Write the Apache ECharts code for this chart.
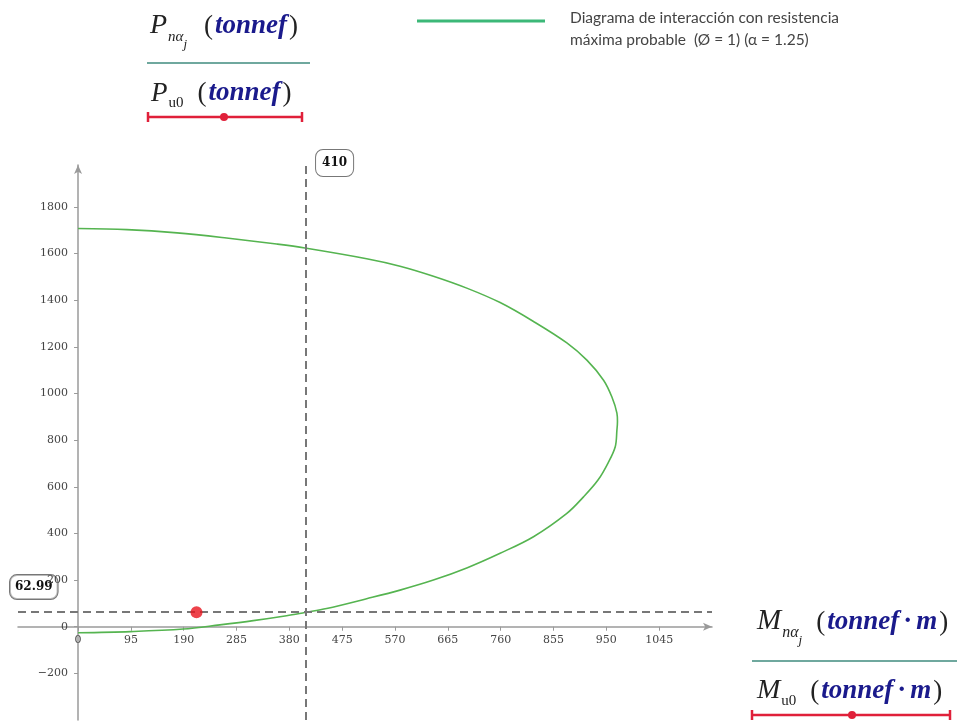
<!DOCTYPE html>
<html>
<head>
<meta charset="utf-8">
<script src="https://cdn.jsdelivr.net/npm/echarts@6/dist/echarts.min.js"></script>
<style>
html,body{margin:0;padding:0;background:#fff;}
#main{width:957px;height:724px;}
</style>
</head>
<body>
<div id="main"></div>
<script>
// ---- data ----
const curveM = [0, 88, 178, 267, 357, 408, 519, 579, 639, 699, 759, 819, 879, 915, 945, 960, 969, 970, 969, 966, 953, 935, 909, 879, 819, 759, 699, 639, 579, 519, 447, 408, 375, 315, 255, 189, 94, 0];
const curveP = [1708, 1703, 1689, 1667, 1641, 1624, 1578, 1546, 1503, 1452, 1390, 1309, 1217, 1143, 1057, 985, 916, 880, 843, 772, 702, 629, 557, 486, 386, 315, 252, 200, 157, 120, 78, 61, 47, 26, 8, -10, -21, -26];
const demandM = [213];
const demandP = [62];
const refM = 410;
const refP = 62.99;
const xTicks = [0, 95, 190, 285, 380, 475, 570, 665, 760, 855, 950, 1045];
const yTicks = [-200, 0, 200, 400, 600, 800, 1000, 1200, 1400, 1600, 1800];
const legendText = ['Diagrama de interacción con resistencia', 'máxima probable  (Ø = 1) (α = 1.25)'];

const chart = echarts.init(document.getElementById('main'));
const serif = 'DejaVu Serif';
const axisColor = '#9a9a9a';
const X_MIN = -108, X_MAX = 1140, Y_MIN = -400, Y_MAX = 1980;
const G = { left: 18, top: 165, width: 694, height: 555 };
// offsets so the axes pass through zero
const yAxisOffset = -G.width * (0 - X_MIN) / (X_MAX - X_MIN);
const xAxisOffset = -G.height * (0 - Y_MIN) / (Y_MAX - Y_MIN);

const curveData = curveM.map((m, i) => [m, curveP[i]]);
const demandData = demandM.map((m, i) => [m, demandP[i]]);

chart.setOption({
  animation: false,
  grid: { left: G.left, top: G.top, width: G.width, height: G.height, containLabel: false, outerBoundsMode: 'none' },
  xAxis: {
    type: 'value', min: X_MIN, max: X_MAX, position: 'bottom', offset: xAxisOffset,
    axisLine: { onZero: false, lineStyle: { color: axisColor, width: 1.5 }, symbol: ['none', 'arrow'], symbolSize: [6, 9] },
    axisTick: { show: true, customValues: xTicks, length: 4, lineStyle: { color: axisColor } },
    axisLabel: { customValues: xTicks, fontFamily: serif, fontSize: 11, color: '#444', margin: 8, formatter: v => String(v) },
    splitLine: { show: false }
  },
  yAxis: {
    type: 'value', min: Y_MIN, max: Y_MAX, position: 'left', offset: yAxisOffset,
    axisLine: { onZero: false, lineStyle: { color: axisColor, width: 1.5 }, symbol: ['none', 'arrow'], symbolSize: [6, 9] },
    axisTick: { show: true, customValues: yTicks, length: 4, lineStyle: { color: axisColor } },
    axisLabel: { customValues: yTicks, fontFamily: serif, fontSize: 11, color: '#444', margin: 10,
      formatter: v => v < 0 ? '\u2212' + Math.abs(v) : String(v) },
    splitLine: { show: false }
  },
  series: [
    {
      type: 'line', data: curveData, showSymbol: false, smooth: 0.35,
      lineStyle: { color: '#55b450', width: 1.6 }, z: 3,
      markLine: {
        silent: true, symbol: ['none', 'none'],
        lineStyle: { color: '#777', width: 2, type: [8, 5] },
        label: { show: false },
        data: [{ xAxis: refM }, { yAxis: refP }]
      }
    },
    {
      type: 'scatter', data: demandData, symbolSize: 12,
      itemStyle: { color: '#e8141e' }, z: 5
    }
  ]
});

// ---- annotation graphics ----
const ctx = document.createElement('canvas').getContext('2d');
function fontStr(p) { return (p.italic ? 'italic ' : '') + (p.bold ? 'bold ' : '') + p.size + 'px ' + (p.family || 'Liberation Serif'); }
function mathRow(x, y, pieces) {
  const els = [];
  let cx = x;
  pieces.forEach(p => {
    if (p.gap) { cx += p.gap; return; }
    ctx.font = fontStr(p);
    const w = ctx.measureText(p.t).width;
    els.push({
      type: 'text', x: cx, y: y + (p.dy || 0), silent: true,
      style: { text: p.t, font: fontStr(p), fill: p.color || '#111', verticalAlign: 'bottom' }
    });
    cx += w + (p.after || 0);
  });
  return els;
}
const navy = '#1a1a8c';
function unitPieces(size, unit) {
  const arr = [
    { t: '(', size: size, color: '#222', after: 2 },
    { t: 'tonnef', size: size, italic: true, bold: true, color: navy, after: unit ? 4 : 2 }
  ];
  if (unit) {
    arr.push({ t: '\u00B7', size: size, bold: true, color: navy, after: 4 });
    arr.push({ t: 'm', size: size, italic: true, bold: true, color: navy, after: 2 });
  }
  arr.push({ t: ')', size: size, color: '#222' });
  return arr;
}
function subAlpha(letter, size, gap) {
  return [
    { t: letter, size: size, italic: true, color: '#222', after: 1 },
    { t: 'n\u03B1', size: Math.round(size * 0.55), italic: true, color: '#222', dy: 5 },
    { t: 'j', size: Math.round(size * 0.45), italic: true, color: '#222', dy: 11 },
    { gap: gap }
  ];
}
function subU0(letter, size, gap) {
  return [
    { t: letter, size: size, italic: true, color: '#222', after: 1 },
    { t: 'u0', size: Math.round(size * 0.55), color: '#222', dy: 4 },
    { gap: gap }
  ];
}
function redKey(x1, x2, xm, y) {
  const c = '#e0203a';
  return [
    { type: 'line', shape: { x1: x1, y1: y, x2: x2, y2: y }, style: { stroke: c, lineWidth: 2.5 }, silent: true },
    { type: 'line', shape: { x1: x1, y1: y - 5, x2: x1, y2: y + 5 }, style: { stroke: c, lineWidth: 2.5 }, silent: true },
    { type: 'line', shape: { x1: x2, y1: y - 5, x2: x2, y2: y + 5 }, style: { stroke: c, lineWidth: 2.5 }, silent: true },
    { type: 'circle', shape: { cx: xm, cy: y, r: 4 }, style: { fill: c }, silent: true }
  ];
}

const vp = chart.convertToPixel({ xAxisIndex: 0, yAxisIndex: 0 }, [refM, refP]);
const graphics = [];
// top-left y-axis title block
graphics.push(...mathRow(150, 40, subAlpha('P', 28, 17).concat(unitPieces(27, false))));
graphics.push({ type: 'line', shape: { x1: 147, y1: 63, x2: 310, y2: 63 }, style: { stroke: '#6fa89e', lineWidth: 2 }, silent: true });
graphics.push(...mathRow(151, 107, subU0('P', 27, 14).concat(unitPieces(27, false))));
graphics.push(...redKey(148, 302, 224, 117));
// legend
graphics.push({ type: 'line', shape: { x1: 417, y1: 21, x2: 545, y2: 21 }, style: { stroke: '#3cb878', lineWidth: 3 }, silent: true });
graphics.push({ type: 'text', x: 570, y: 10, silent: true, style: { text: legendText[0], font: '15.5px Lato', fill: '#444' } });
graphics.push({ type: 'text', x: 570, y: 32, silent: true, style: { text: legendText[1], font: '15.5px Lato', fill: '#444' } });
// bottom-right x-axis title block
graphics.push(...mathRow(757, 636, subAlpha('M', 29, 14).concat(unitPieces(27, true))));
graphics.push({ type: 'line', shape: { x1: 752, y1: 661, x2: 957, y2: 661 }, style: { stroke: '#6fa89e', lineWidth: 2 }, silent: true });
graphics.push(...mathRow(757, 705, subU0('M', 28, 14).concat(unitPieces(27, true))));
graphics.push(...redKey(752, 950, 852, 715));
// value boxes on reference lines
graphics.push({
  type: 'text', x: vp[0] + 10, y: 150, silent: true,
  style: { text: String(refM), font: 'bold 12px ' + serif, fill: '#111', padding: [7, 6, 7, 6],
    borderColor: '#777', borderWidth: 1, borderRadius: 7, backgroundColor: '#fff' }
});
graphics.push({
  type: 'text', x: 10, y: vp[1] - 37, silent: true,
  style: { text: String(refP), font: 'bold 12px ' + serif, fill: '#111', padding: [6, 5, 6, 5],
    borderColor: '#777', borderWidth: 1, borderRadius: 7, backgroundColor: 'rgba(255,255,255,0.5)' }
});
chart.setOption({ graphic: graphics });
</script>
</body>
</html>
